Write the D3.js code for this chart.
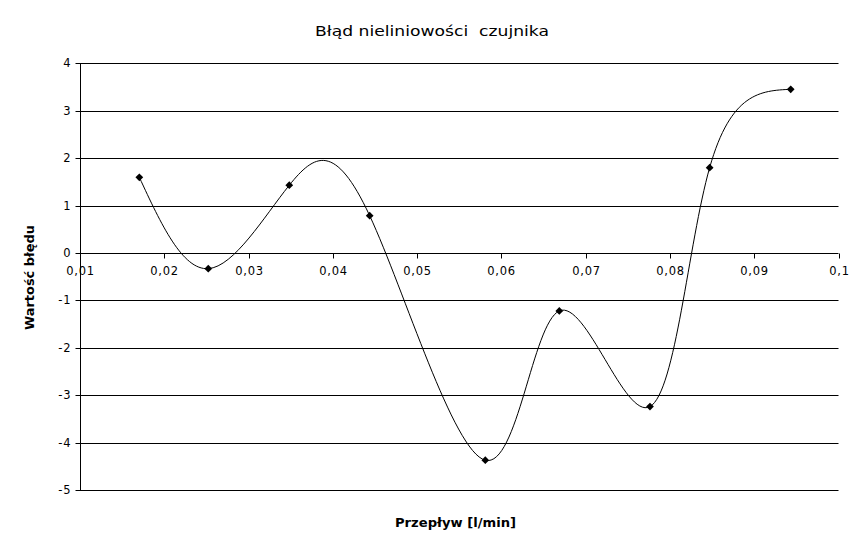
<!DOCTYPE html>
<html><head><meta charset="utf-8">
<script src="https://cdn.jsdelivr.net/npm/d3@7"></script>
<style>body{margin:0;background:#fff}svg{display:block}text{font-family:"DejaVu Sans",sans-serif}</style>
</head><body><svg id="c" width="866" height="548"></svg>
<script>
const flow = [0.01704, 0.02522, 0.03483, 0.04437, 0.05809, 0.06687, 0.07763, 0.08471, 0.09433];
const errorVal = [1.596, -0.331, 1.428, 0.787, -4.372, -1.223, -3.241, 1.799, 3.452];
const xTicks = [0.01,0.02,0.03,0.04,0.05,0.06,0.07,0.08,0.09,0.1];
const yTicks = [4,3,2,1,0,-1,-2,-3,-4,-5];
const title = "Błąd nieliniowości  czujnika";
const xTitle = "Przepływ [l/min]";
const yTitle = "Wartość błędu";

const svg = d3.select("#c");
const x = d3.scaleLinear().domain([0.01,0.1]).range([80,838.5]);
const y = d3.scaleLinear().domain([-5,4]).range([490,63.3]);
const fmt = v => d3.format("~g")(v).replace(".", ",");

// gridlines
svg.append("g").selectAll("line").data(yTicks).join("line")
  .attr("x1",x(0.01)).attr("x2",x(0.1))
  .attr("y1",d=>Math.round(y(d))+0.5).attr("y2",d=>Math.round(y(d))+0.5)
  .attr("stroke","#000").attr("stroke-width",1);

// y axis
const ya = svg.append("g").attr("transform",`translate(${x(0.01)+0.5},0)`)
  .call(d3.axisLeft(y).tickValues(yTicks).tickSize(5).tickPadding(4).tickFormat(d=>String(d)));
ya.select(".domain").attr("d",`M0,${y(4)}V${y(-5)}`);
ya.selectAll(".tick").attr("transform",d=>`translate(0,${Math.round(y(d))+0.5})`);
ya.selectAll("text").attr("font-size",11.5).attr("font-family","DejaVu Sans")
  .attr("letter-spacing",0.9).attr("fill","#000");

// x axis at zero
const xa = svg.append("g").attr("transform",`translate(0,${Math.round(y(0))+0.5})`)
  .call(d3.axisBottom(x).tickValues(xTicks).tickSize(5).tickPadding(8).tickFormat(fmt));
xa.select(".domain").remove();
xa.selectAll(".tick").attr("transform",d=>`translate(${Math.round(x(d))+0.5},0)`);
xa.selectAll("text").attr("font-size",11.5).attr("font-family","DejaVu Sans")
  .attr("letter-spacing",0.7).attr("fill","#000");

// curve
const pts = flow.map((f,i)=>[f,errorVal[i]]);
svg.append("path").datum(pts)
  .attr("d", d3.line().x(d=>x(d[0])).y(d=>y(d[1])).curve(d3.curveNatural))
  .attr("fill","none").attr("stroke","#000").attr("stroke-width",1);

// markers
svg.append("g").selectAll("path").data(pts).join("path")
  .attr("d", d3.symbol(d3.symbolSquare, 30))
  .attr("transform", d=>`translate(${x(d[0])},${y(d[1])}) rotate(45)`)
  .attr("fill","#000");

// titles
svg.append("text").attr("x",432).attr("y",35.5).attr("text-anchor","middle")
  .style("white-space","pre").attr("xml:space","preserve")
  .attr("font-size",13.5).attr("textLength",234).attr("lengthAdjust","spacingAndGlyphs").text(title);
svg.append("text").attr("x",455.5).attr("y",527).attr("text-anchor","middle")
  .attr("font-size",12).attr("font-weight","bold")
  .attr("textLength",121).attr("lengthAdjust","spacingAndGlyphs").text(xTitle);
svg.append("text").attr("transform",`translate(33.5,277.5) rotate(-90)`).attr("text-anchor","middle")
  .attr("font-size",12).attr("font-weight","bold")
  .attr("textLength",105).attr("lengthAdjust","spacingAndGlyphs").text(yTitle);
</script></body></html>
